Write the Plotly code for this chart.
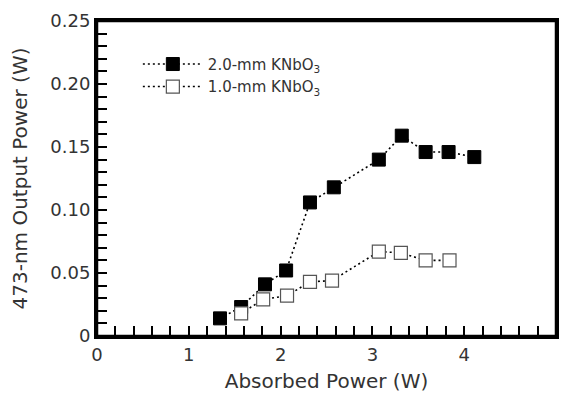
import plotly.graph_objects as go

# Data
x_2mm = [1.34, 1.57, 1.83, 2.06, 2.32, 2.58, 3.07, 3.32, 3.58, 3.83, 4.11]
y_2mm = [0.014, 0.023, 0.041, 0.052, 0.106, 0.118, 0.140, 0.159, 0.146, 0.146, 0.142]
x_1mm = [1.57, 1.81, 2.07, 2.32, 2.56, 3.07, 3.31, 3.58, 3.84]
y_1mm = [0.018, 0.029, 0.032, 0.043, 0.044, 0.067, 0.066, 0.060, 0.060]

x_range = [0, 5]
y_range = [0, 0.25]
x_major_labels = ["0", "1", "2", "3", "4", "5"]
y_major_labels = ["0", "0.05", "0.10", "0.15", "0.20", "0.25"]

# small tick steps: 5 per labelled interval; unlabelled ticks get an empty alias
x_small_step = 0.2
y_small_step = 0.01
x_alias = {f"{i * x_small_step:.1f}": (x_major_labels[i // 5] if i % 5 == 0 else "") for i in range(26)}
y_alias = {f"{i * y_small_step:.2f}": (y_major_labels[i // 5] if i % 5 == 0 else "") for i in range(26)}

font_family = "DejaVu Sans, Liberation Sans, Arial, sans-serif"
text_color = "#333333"

fig = go.Figure()
fig.add_trace(go.Scatter(
    x=x_2mm, y=y_2mm, mode="lines+markers",
    name="2.0-mm KNbO<sub>3</sub>",
    line=dict(color="black", width=1.6, dash="2px,3px"),
    marker=dict(symbol="square", size=13, color="black", line=dict(color="black", width=1)),
))
fig.add_trace(go.Scatter(
    x=x_1mm, y=y_1mm, mode="lines+markers",
    name="1.0-mm KNbO<sub>3</sub>",
    line=dict(color="black", width=1.6, dash="2px,3px"),
    marker=dict(symbol="square", size=13, color="white", line=dict(color="#555555", width=1.2)),
))

fig.update_layout(
    template="none",
    width=561, height=396,
    margin=dict(l=97, r=5, t=21, b=60),
    paper_bgcolor="white", plot_bgcolor="white",
    xaxis=dict(range=x_range, tick0=0, dtick=x_small_step, tickformat=".1f", labelalias=x_alias,
               showline=True, linecolor="black", linewidth=3, mirror=True,
               ticks="inside", ticklen=10, tickwidth=1.5, tickcolor="black",
               showgrid=False, zeroline=False,
               tickfont=dict(family=font_family, size=18, color=text_color),
               title=dict(text="Absorbed Power (W)", standoff=11,
                          font=dict(family=font_family, size=20, color=text_color))),
    yaxis=dict(range=y_range, tick0=0, dtick=y_small_step, tickformat=".2f", labelalias=y_alias,
               showline=True, linecolor="black", linewidth=3, mirror=True,
               ticks="inside", ticklen=10, tickwidth=1.5, tickcolor="black",
               showgrid=False, zeroline=False,
               tickfont=dict(family=font_family, size=18, color=text_color),
               title=dict(text="473-nm Output Power (W)", standoff=18,
                          font=dict(family=font_family, size=20, color=text_color))),
    shapes=[dict(type="rect", xref="x domain", yref="y domain", x0=0, y0=0, x1=1, y1=1,
                 line=dict(color="black", width=2.5), fillcolor="rgba(0,0,0,0)", layer="above")],
    showlegend=True,
    legend=dict(x=0.089, y=0.915, xanchor="left", yanchor="top",
                bgcolor="rgba(0,0,0,0)", borderwidth=0, itemwidth=60,
                font=dict(family=font_family, size=15, color=text_color)),
)

fig.write_html("out.html")
